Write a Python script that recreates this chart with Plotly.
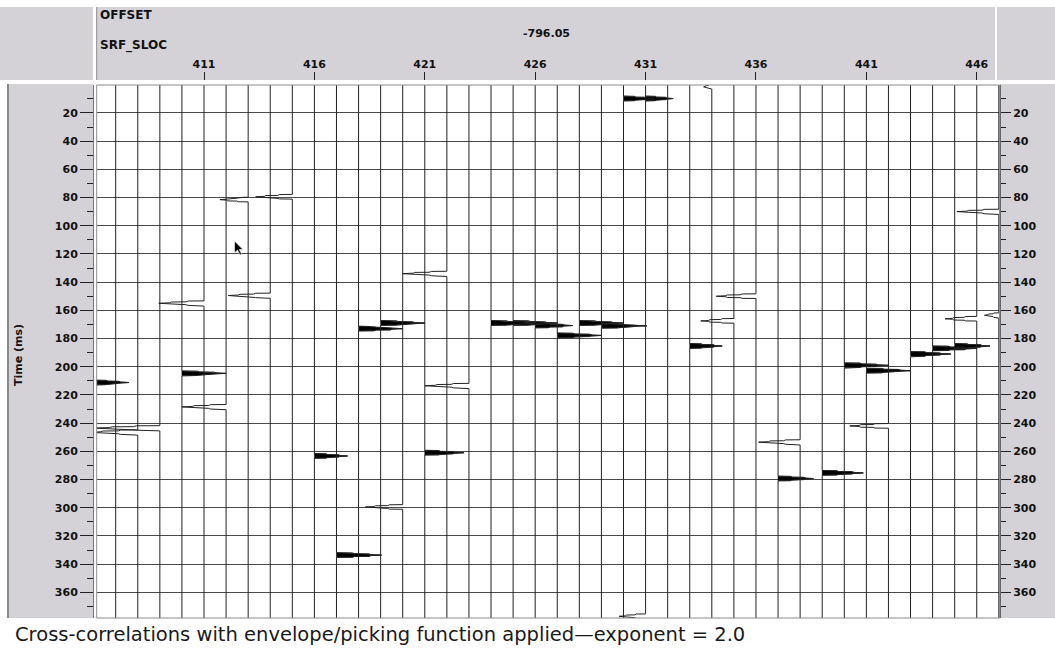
import numpy as np
import plotly.graph_objects as go

W, H = 1055, 652
ML, MR, MT, MB = 93, 55, 80, 34
PW, PH = W - ML - MR, H - MT - MB

# ---------------- data ----------------
srf_sloc = list(range(406, 448))                       # trace positions (SRF_SLOC)
header_ticks = [411, 416, 421, 426, 431, 436, 441, 446]
time_ticks = list(range(20, 381, 20))
time_minor = list(range(10, 381, 20))
offset_label = "-796.05"

# picked events: trace, time (ms), amplitude (in trace spacings; + = filled peak, - = trough)
ev_trace = [406, 409, 408, 411, 413, 415, 414, 410, 412, 416,
            417, 420, 418, 419, 422, 423, 421,
            424, 425, 426, 427, 428, 429, 430, 431, 434, 433,
            436, 435, 438, 437, 439, 442,
            440, 441, 443, 444, 445, 446, 447, 447, 431]
ev_time = [211.2, 243.5, 246.5, 155.0, 81.5, 79.5, 149.5, 204.7, 228.5, 263.3,
           333.6, 299.5, 173.0, 169.0, 134.0, 213.5, 261.0,
           169.0, 169.0, 170.8, 177.8, 169.0, 171.0, 9.8, 9.8, 1.5, 185.3,
           150.0, 167.5, 253.5, 279.3, 275.3, 242.0,
           199.0, 202.8, 191.0, 187.0, 185.3, 166.0, 163.5, 90.0, 377.0]
ev_amp = [1.6, -3.0, -2.2, -2.05, -1.28, -1.66, -1.9, 2.0, -2.0, 1.5,
          2.04, -1.7, 2.0, 2.0, -2.0, -2.0, 1.77,
          2.0, 2.0, 1.7, 2.0, 2.0, 2.05, 1.4, 1.25, -0.37, 1.47,
          -1.8, -1.5, -1.88, 1.6, 1.86, -1.75,
          2.0, 2.0, 1.82, 2.0, 1.6, -1.44, -0.65, -1.9, -1.2]

caption = "Cross-correlations with envelope/picking function applied\u2014exponent = 2.0"

# wavelet (rendering style of a spike: stepped, tapering wedge)
pulse_off = [-1.7, -1.6, -1.0, -0.9, -0.35, 0.0, 0.35, 0.9, 1.0, 1.5, 1.6]
pulse_val = [0.0, 0.35, 0.40, 0.72, 0.76, 1.0, 0.76, 0.72, 0.40, 0.35, 0.0]

# ---------------- helpers ----------------
def fx(px):
    return (px - ML) / PW

def fy(py):
    return (H - MB - py) / PH

t_base = np.arange(0.0, 380.001, 0.5)
extra = np.concatenate([np.asarray(pulse_off) + t0 for t0 in ev_time])
t = np.union1d(t_base, extra[(extra >= 0) & (extra <= 380)])

line_x, line_y = [], []
fill_x, fill_y = [], []
for s in srf_sloc:
    w = np.zeros_like(t)
    for tr, t0, a in zip(ev_trace, ev_time, ev_amp):
        if tr == s:
            w += a * np.interp(t - t0, pulse_off, pulse_val, left=0.0, right=0.0)
    nz = w != 0
    keep = nz.copy()
    keep[1:] |= nz[:-1]
    keep[:-1] |= nz[1:]
    keep[0] = keep[-1] = True
    line_x += list(s + w[keep]) + [None]
    line_y += list(t[keep]) + [None]
    for tr, t0, a in zip(ev_trace, ev_time, ev_amp):
        if tr == s and a > 0:
            m = (t >= t0 + pulse_off[0]) & (t <= t0 + pulse_off[-1])
            tt = t[m]
            xx = s + np.clip(w[m], 0, None)
            fill_x += list(xx) + [s] * len(tt) + [None]
            fill_y += list(tt) + list(tt[::-1]) + [None]

fig = go.Figure()
fig.add_trace(go.Scatter(x=fill_x, y=fill_y, mode="lines", fill="toself",
                         fillcolor="black", line=dict(width=0.5, color="black"),
                         hoverinfo="skip", showlegend=False))
fig.add_trace(go.Scatter(x=line_x, y=line_y, mode="lines",
                         line=dict(width=1, color="#222222"),
                         hoverinfo="skip", showlegend=False))
fig.add_trace(go.Scatter(x=[446], y=[100], yaxis="y2", mode="markers",
                         marker=dict(opacity=0), hoverinfo="skip", showlegend=False))

tick_font = dict(family="DejaVu Sans", size=11, color="#111111", weight="bold")
panel = "#d4d2d7"

fig.update_layout(
    width=W, height=H,
    margin=dict(l=ML, r=MR, t=MT, b=MB, autoexpand=False),
    paper_bgcolor="white", plot_bgcolor="white", showlegend=False,
    xaxis=dict(domain=[fx(96.7), fx(999.5)], range=[406.14, 447.03],
               side="top", anchor="free", position=1,
               showgrid=False, zeroline=False, showline=False,
               ticks="outside", ticklen=8, tickwidth=1, tickcolor="#222",
               tickvals=header_ticks, ticktext=[str(v) for v in header_ticks],
               tickfont=tick_font),
    yaxis=dict(domain=[0, fy(85)], range=[378.2, 0.2],
               anchor="free", position=0, side="left",
               showline=True, linecolor="#777", linewidth=1,
               ticks="outside", ticklen=13, tickwidth=1, tickcolor="#222",
               tickvals=time_ticks, ticktext=[str(v) for v in time_ticks],
               showgrid=True, gridcolor="#4a4a4a", gridwidth=1, zeroline=False,
               minor=dict(tickvals=time_minor, ticks="outside", ticklen=6,
                          tickcolor="#222", showgrid=False),
               tickfont=tick_font),
    yaxis2=dict(overlaying="y", range=[378.2, 0.2], anchor="free", position=1,
                side="right", showline=True, linecolor="#666", linewidth=1,
                ticks="outside", ticklen=10, tickwidth=1, tickcolor="#222",
                tickvals=time_ticks, ticktext=[str(v) for v in time_ticks],
                showgrid=False, zeroline=False,
                minor=dict(tickvals=time_minor, ticks="outside", ticklen=5,
                           tickcolor="#222", showgrid=False),
                tickfont=tick_font),
)

shapes = []
def rect(x0, y0, x1, y1, color, layer="below"):
    shapes.append(dict(type="rect", xref="paper", yref="paper",
                       x0=fx(x0), x1=fx(x1), y0=fy(y1), y1=fy(y0),
                       fillcolor=color, line=dict(width=0), layer=layer))

def seg(x0, y0, x1, y1, color, width=1, layer="below"):
    shapes.append(dict(type="line", xref="paper", yref="paper",
                       x0=fx(x0), x1=fx(x1), y0=fy(y0), y1=fy(y1),
                       line=dict(color=color, width=width), layer=layer))

rect(0, 7, 93, 80, panel)
rect(96.7, 7, 995, 80, panel)
rect(997, 7, 1055, 80, panel)
rect(7, 84, 93, 618, panel)
rect(1000, 84, 1055, 618, panel)
seg(96.7, 7, 96.7, 80, "#8a8a8a")
seg(8, 84, 8, 618, "#8a8a8a", width=2)
# plot frame
shapes.append(dict(type="rect", xref="paper", yref="paper",
                   x0=fx(96.7), x1=fx(999.5), y0=fy(618), y1=fy(85),
                   line=dict(color="#8c8c8c", width=1), layer="above"))
# mouse pointer
pts = [(0, 0), (0, 12), (3, 9), (5.5, 14), (7.2, 13.2), (4.8, 8.5), (8.5, 8.5)]
ox, oy = 234.5, 241
path = "M " + " L ".join(f"{fx(ox + a):.5f},{fy(oy + b):.5f}" for a, b in pts) + " Z"
shapes.append(dict(type="path", xref="paper", yref="paper", path=path,
                   fillcolor="black", line=dict(color="white", width=0.6), layer="above"))
fig.update_layout(shapes=shapes)

hdr_font = dict(family="DejaVu Sans", size=12, color="#111111", weight="bold")
ann = [
    dict(text="OFFSET", x=fx(97.5), y=fy(15), xanchor="left", yanchor="middle", font=hdr_font),
    dict(text="SRF_SLOC", x=fx(97.5), y=fy(45.5), xanchor="left", yanchor="middle", font=hdr_font),
    dict(text=offset_label, x=fx(546), y=fy(33.5), xanchor="center", yanchor="middle", font=tick_font),
    dict(text="Time (ms)", x=fx(19), y=fy(355), xanchor="center", yanchor="middle",
         textangle=-90, font=tick_font),
    dict(text=caption, x=fx(13), y=fy(634), xanchor="left", yanchor="middle",
         font=dict(family="DejaVu Sans", size=19.5, color="#1a1a1a")),
]
for a in ann:
    a.update(xref="paper", yref="paper", showarrow=False)
fig.update_layout(annotations=ann)

fig.write_html("out.html")
